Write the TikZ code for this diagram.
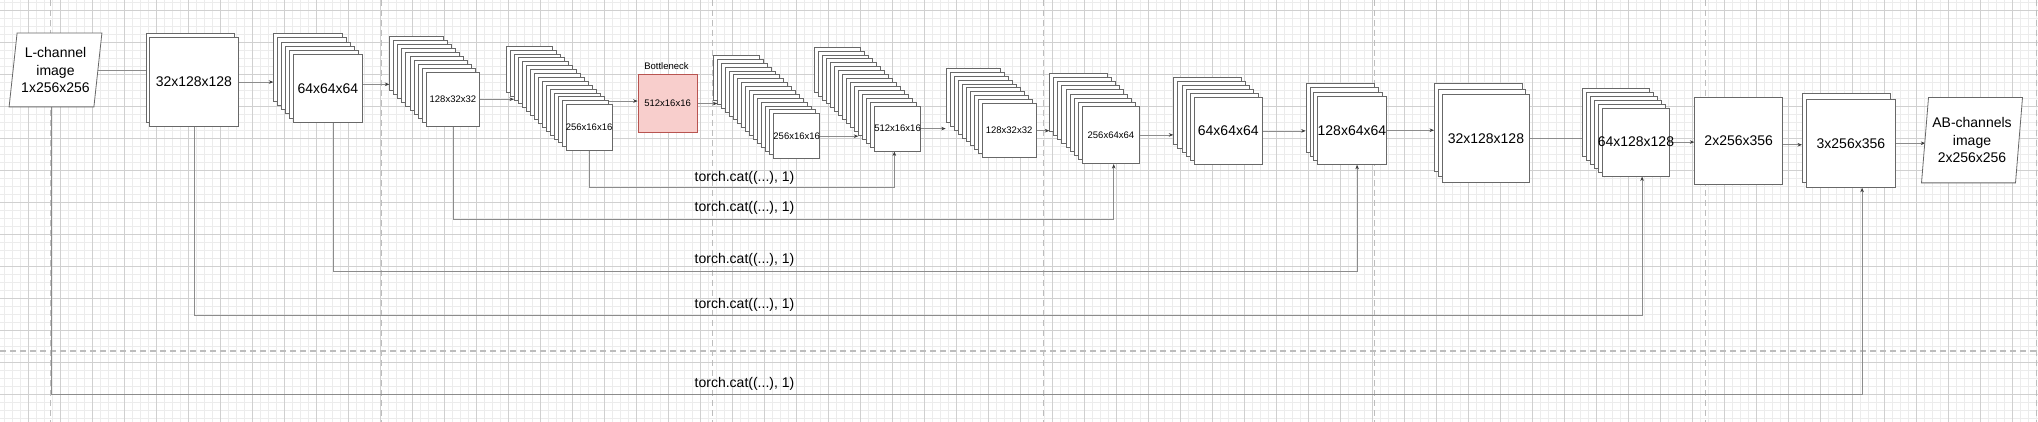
\documentclass[tikz,border=0pt]{standalone}
\usepackage{fontspec}
\setmainfont{Liberation Sans}
\usetikzlibrary{arrows.meta,calc}
\pgfdeclarelayer{grid}
\pgfdeclarelayer{edges}
\pgfsetlayers{grid,edges,main}
\definecolor{boxdraw}{HTML}{686868}
\definecolor{conncol}{HTML}{8C8C8C}
\definecolor{tipcol}{HTML}{3C3C3C}
\definecolor{minorgrid}{HTML}{ECECEC}
\definecolor{majorgrid}{HTML}{D0D0D0}
\definecolor{pagebreak}{HTML}{BDBDBD}
\definecolor{bnfill}{HTML}{F8CECC}
\definecolor{bndraw}{HTML}{B85450}
\tikzset{
  layerbox/.style={draw=boxdraw, line width=0.8pt, fill=white, inner sep=0pt, anchor=north west},
  bigtext/.style={font=\fontsize{14}{17.5}\selectfont, inner sep=0pt},
  smalltext/.style={font=\fontsize{9.5}{11}\selectfont, inner sep=0pt},
  conn/.style={draw=conncol, line width=0.7pt, -{Stealth[length=4.5pt,width=3.6pt,color=tipcol]}},
  plainconn/.style={draw=conncol, line width=0.7pt},
  skipconn/.style={draw=conncol, line width=0.8pt, -{Stealth[length=4.5pt,width=3.6pt,color=tipcol]}},
  minorline/.style={draw=minorgrid, line width=0.7pt},
  majorline/.style={draw=majorgrid, line width=0.9pt},
  pageline/.style={draw=pagebreak, line width=1.4pt, dash pattern=on 6pt off 4pt},
  paraline/.style={draw=boxdraw, line width=0.8pt, fill=white},
}
% #1 name, #2 layers, #3/#4 back-most top-left, #5/#6 front top-left, #7 w, #8 h, #9 text style
\newcommand\layerstack[9]{%
  \pgfmathtruncatemacro\lastk{#2-2}%
  \foreach \kk in {0,...,\lastk}{%
    \pgfmathsetmacro\lx{#3+(#5-#3)*\kk/(#2-1)}%
    \pgfmathsetmacro\ly{#4+(#6-#4)*\kk/(#2-1)}%
    \node[layerbox, minimum width=#7pt, minimum height=#8pt] (#1-\kk) at (\lx,\ly) {};
  }%
  \node[layerbox, minimum width=#7pt, minimum height=#8pt] (#1) at (#5,#6) {};
  \node[#9] (#1-t) at (#1.center) {\stacktext};
}
\begin{document}
\begin{tikzpicture}[x=1pt,y=-1pt]
\useasboundingbox (0,0) rectangle (2038,422);
\begin{pgfonlayer}{grid}
  \fill[white] (0,0) rectangle (2038,422);
  \foreach \i in {0,...,254}{\draw[minorline] (4.3+8*\i,0) -- (4.3+8*\i,422);}
  \foreach \i in {0,...,52}{\draw[minorline] (0,2.3+8*\i) -- (2038,2.3+8*\i);}
  \foreach \i in {0,...,63}{\draw[majorline] (28.3+32*\i,0) -- (28.3+32*\i,422);}
  \foreach \i in {0,...,13}{\draw[majorline] (0,10.3+32*\i) -- (2038,10.3+32*\i);}
  \foreach \i in {0,...,6}{\draw[pageline] (50.7+331*\i,0) -- (50.7+331*\i,422);}
  \draw[pageline] (0,351) -- (2038,351);
\end{pgfonlayer}

% input / output images (text; outlines drawn below)
\node[bigtext, minimum width=92.4pt, minimum height=73.4pt, align=center] (L) at (55.5,70) {L-channel\\image\\1x256x256};
\node[bigtext, minimum width=100.6pt, minimum height=85pt, align=center] (AB) at (1972,140.2) {AB-channels\\image\\2x256x256};

% encoder
\def\stacktext{32x128x128}\layerstack{A1}{2}{145.7}{33.3}{149.3}{37.3}{88.4}{88.7}{bigtext}
\def\stacktext{64x64x64}\layerstack{A2}{6}{273.3}{33.3}{293.3}{54}{68.4}{67.7}{bigtext}
\def\stacktext{128x32x32}\layerstack{A3}{10}{389.3}{35.7}{425.7}{71.7}{53.6}{54.3}{smalltext}
\def\stacktext{256x16x16}\layerstack{A4}{16}{506}{45.7}{565.7}{104.3}{46}{46}{smalltext}

% bottleneck
\node[layerbox, draw=bndraw, fill=bnfill, minimum width=59pt, minimum height=58.3pt] (Bn) at (637.7,74) {};
\node[smalltext] (Bn-t) at (Bn.center) {512x16x16};
\node[smalltext] (Bn-l) at (666.5,65.7) {Bottleneck};

% decoder
\def\stacktext{256x16x16}\layerstack{B1}{16}{713.3}{55}{773.3}{113.3}{46}{45}{smalltext}
\def\stacktext{512x16x16}\layerstack{B2}{16}{814.3}{46.7}{874.3}{105.7}{45.7}{45}{smalltext}
\def\stacktext{128x32x32}\layerstack{B3}{10}{945.7}{67.7}{981.7}{103.3}{54}{54}{smalltext}
\def\stacktext{256x64x64}\layerstack{B4}{9}{1049.3}{73.3}{1081.7}{105.7}{57.6}{57.6}{smalltext}
\def\stacktext{64x64x64}\layerstack{B5}{6}{1173.3}{76.7}{1194}{96.7}{67.7}{67.6}{bigtext}
\def\stacktext{128x64x64}\layerstack{B6}{4}{1305.7}{83.3}{1317.3}{95.7}{68.4}{68.3}{bigtext}
\def\stacktext{32x128x128}\layerstack{B7}{3}{1434}{83.3}{1441.7}{94}{87.6}{87.7}{bigtext}
\def\stacktext{64x128x128}\layerstack{B8}{6}{1581.7}{87.7}{1601.7}{107.7}{67.6}{68}{bigtext}
\node[layerbox, minimum width=88pt, minimum height=87.3pt] (B9) at (1694.3,96.7) {};
\node[bigtext] (B9-t) at (B9.center) {2x256x356};
\def\stacktext{3x256x356}\layerstack{B10}{2}{1802}{93.3}{1806.3}{98.7}{88.4}{88.3}{bigtext}

% skip labels
\node[bigtext] (c1) at (744.5,178.3) {torch.cat((...), 1)};
\node[bigtext] (c2) at (744.5,208.3) {torch.cat((...), 1)};
\node[bigtext] (c3) at (744.5,260) {torch.cat((...), 1)};
\node[bigtext] (c4) at (744.5,305) {torch.cat((...), 1)};
\node[bigtext] (c5) at (744.5,384.3) {torch.cat((...), 1)};

\begin{pgfonlayer}{edges}
  \coordinate (a23) at ([yshift=3.9pt]A2.east);
  \coordinate (bnin) at ([yshift=2.5pt]Bn.west);
  \coordinate (b910) at ([yshift=-4pt]B9.east);
  \coordinate (abin) at ([xshift=3.8pt]AB.west);
  \coordinate (lout) at ([xshift=-4pt]L.east);
  \draw[plainconn] (lout) -- (lout -| A1-0.west);
  \draw[conn] (A1.east) -- (A1.east -| A2-0.west);
  \draw[conn] (a23) -- (a23 -| A3-0.west);
  \draw[conn] (A3.east) -- (A3.east -| A4-2.west);
  \draw[conn] (A4.center |- bnin) -- (bnin);
  \draw[conn] (Bn.east) -- (Bn.east -| B1-1.west);
  \draw[conn] (B1.east) -- (B1.east -| B2-11.west);
  \draw[conn] (B2.east) -- (B2.east -| B3-0.west);
  \draw[conn] (B3.east) -- (B3.east -| B4-0.west);
  \draw[conn] (B4.east) -- (B4.east -| B5-0.west);
  \draw[conn] (B5.east) -- (B5.east -| B6-0.west);
  \draw[conn] (B6.east) -- (B6.east -| B7-0.west);
  \draw[conn] (B7.east) -- (B7.east -| B8-3.west);
  \draw[conn] (B8.east) -- (B8.east -| B9.west);
  \draw[conn] (b910) -- (b910 -| B10-0.west);
  \draw[conn] (B10.east) -- (B10.east -| abin);
  % skip connections
  \draw[skipconn] (A4.south) -- ++(0,36.4) -| ([xshift=-3.2pt]B2.south);
  \draw[skipconn] (A3.south) -- ++(0,92.5) -| ([xshift=2.8pt]B4.south);
  \draw[skipconn] ([xshift=5.8pt]A2.south) -- ++(0,148.6) -| ([xshift=5.2pt]B6.south);
  \draw[skipconn] (A1.south) -- ++(0,188.7) -| ([xshift=6.2pt]B8.south);
  \draw[skipconn] ([xshift=-4pt]L.south) -- ++(0,287.6) -| ([xshift=11.2pt]B10.south);
  % parallelogram outlines
  \draw[paraline] ([xshift=8pt]L.north west) -- (L.north east) -- ([xshift=-8pt]L.south east) -- (L.south west) -- cycle;
  \draw[paraline] ([xshift=7pt]AB.north west) -- (AB.north east) -- ([xshift=-7pt]AB.south east) -- (AB.south west) -- cycle;
\end{pgfonlayer}
\end{tikzpicture}
\end{document}
